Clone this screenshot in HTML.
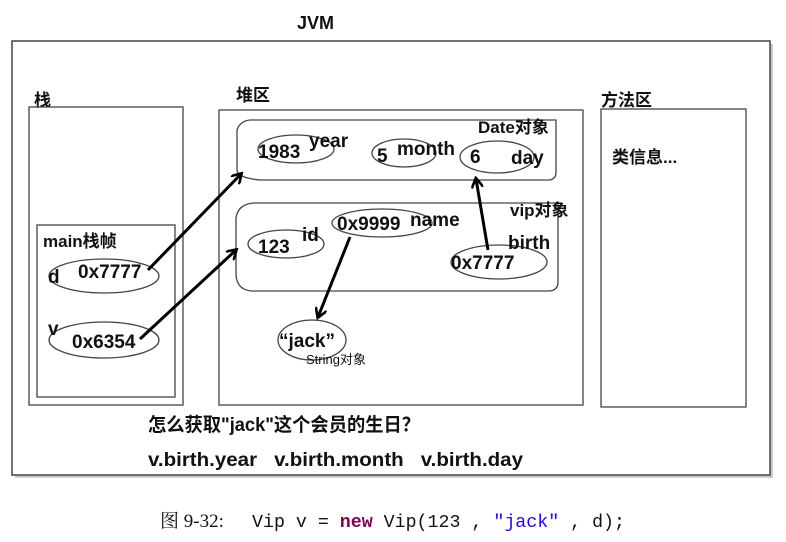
<!DOCTYPE html>
<html><head><meta charset="utf-8"><style>
html,body{margin:0;padding:0;background:#fff;}
svg text{font-family:"Liberation Sans","Noto Sans CJK SC",sans-serif;font-weight:bold;fill:#111;}
</style></head><body>
<svg width="786" height="537" viewBox="0 0 786 537" xmlns="http://www.w3.org/2000/svg">
<defs><marker id="ah" markerWidth="12" markerHeight="12" refX="9" refY="6" orient="auto" markerUnits="userSpaceOnUse"><path d="M0,0 L10,6 L0,12" fill="none" stroke="#000" stroke-width="2.6"/></marker></defs>
<rect x="15" y="44" width="758" height="434" fill="#ccc"/>
<rect x="12" y="41" width="758" height="434" fill="#fff" stroke="#444" stroke-width="1.5"/>
<text x="297" y="29" font-size="18">JVM</text>
<text x="34" y="106" font-size="17">栈</text>
<rect x="29" y="107" width="154" height="298" fill="none" stroke="#444" stroke-width="1.3"/>
<rect x="37" y="225" width="138" height="172" fill="none" stroke="#444" stroke-width="1.3"/>
<text x="43" y="247" font-size="17">main栈帧</text>
<text x="236" y="101" font-size="17">堆区</text>
<rect x="219" y="110" width="364" height="295" fill="none" stroke="#444" stroke-width="1.3"/>
<text x="601" y="106" font-size="17">方法区</text>
<rect x="601" y="109" width="145" height="298" fill="none" stroke="#444" stroke-width="1.3"/>
<text x="612" y="163" font-size="17">类信息...</text>
<path d="M250,120 L556,120 L556,172 Q556,180 548,180 L260,180 Q238,178 237,170 L237,130 Q240,121 250,120 Z" fill="none" stroke="#444" stroke-width="1.3"/>
<path d="M254,203 L558,203 L558,282 Q558,291 548,291 L252,291 Q237,290 236,275 L236,218 Q238,204 254,203 Z" fill="none" stroke="#444" stroke-width="1.3"/>
<g fill="none" stroke="#444" stroke-width="1.3">
<ellipse cx="296" cy="149" rx="38" ry="14"/>
<ellipse cx="404" cy="153" rx="32" ry="14"/>
<ellipse cx="497" cy="157" rx="37" ry="16"/>
<ellipse cx="286" cy="244" rx="38" ry="14"/>
<ellipse cx="382" cy="223" rx="50" ry="14"/>
<ellipse cx="499" cy="262" rx="48" ry="17"/>
<ellipse cx="104" cy="276" rx="55" ry="17"/>
<ellipse cx="104" cy="340" rx="55" ry="18"/>
<ellipse cx="312" cy="340" rx="34" ry="20"/>
</g>
<text x="258" y="158" font-size="19">1983</text><text x="309" y="147" font-size="19">year</text>
<text x="377" y="162" font-size="19">5</text><text x="397" y="155" font-size="19">month</text>
<text x="470" y="163" font-size="19">6</text><text x="511" y="164" font-size="19">day</text>
<text x="478" y="133" font-size="17">Date对象</text>
<text x="258" y="253" font-size="19">123</text><text x="302" y="241" font-size="19">id</text>
<text x="337" y="230" font-size="19">0x9999</text><text x="410" y="226" font-size="19">name</text>
<text x="510" y="216" font-size="17">vip对象</text>
<text x="508" y="249" font-size="19">birth</text>
<text x="451" y="269" font-size="19">0x7777</text>
<text x="48" y="283" font-size="19">d</text><text x="78" y="278" font-size="19">0x7777</text>
<text x="48" y="335" font-size="19">v</text><text x="72" y="348" font-size="19">0x6354</text>
<text x="279" y="347" font-size="19">“jack”</text>
<text x="306" y="364" font-size="13" style="font-weight:normal">String对象</text>
<g stroke="#000" stroke-width="3" fill="none" marker-end="url(#ah)">
<line x1="148" y1="270" x2="241" y2="174"/>
<line x1="140" y1="339" x2="236" y2="250"/>
<line x1="350" y1="237" x2="318" y2="317"/>
<line x1="488" y1="250" x2="476" y2="179"/>
</g>
<text x="148" y="431" font-size="19" textLength="272" lengthAdjust="spacingAndGlyphs">怎么获取"jack"这个会员的生日？</text>
<text x="148" y="466" font-size="19" textLength="375" lengthAdjust="spacingAndGlyphs">v.birth.year &#160;&#160;v.birth.month &#160;&#160;v.birth.day</text>
<text x="160" y="527" font-size="19" style="font-weight:normal;font-family:'Liberation Serif','Noto Serif CJK SC',serif">图 9-32:</text>
<text x="252" y="527" font-size="18" textLength="373" lengthAdjust="spacingAndGlyphs" style="font-weight:normal;font-family:'Liberation Mono',monospace" xml:space="preserve">Vip v = <tspan fill="#7f0055" font-weight="bold">new</tspan> Vip(123 , <tspan fill="#2a00ff">"jack"</tspan> , d);</text>
</svg>
</body></html>
